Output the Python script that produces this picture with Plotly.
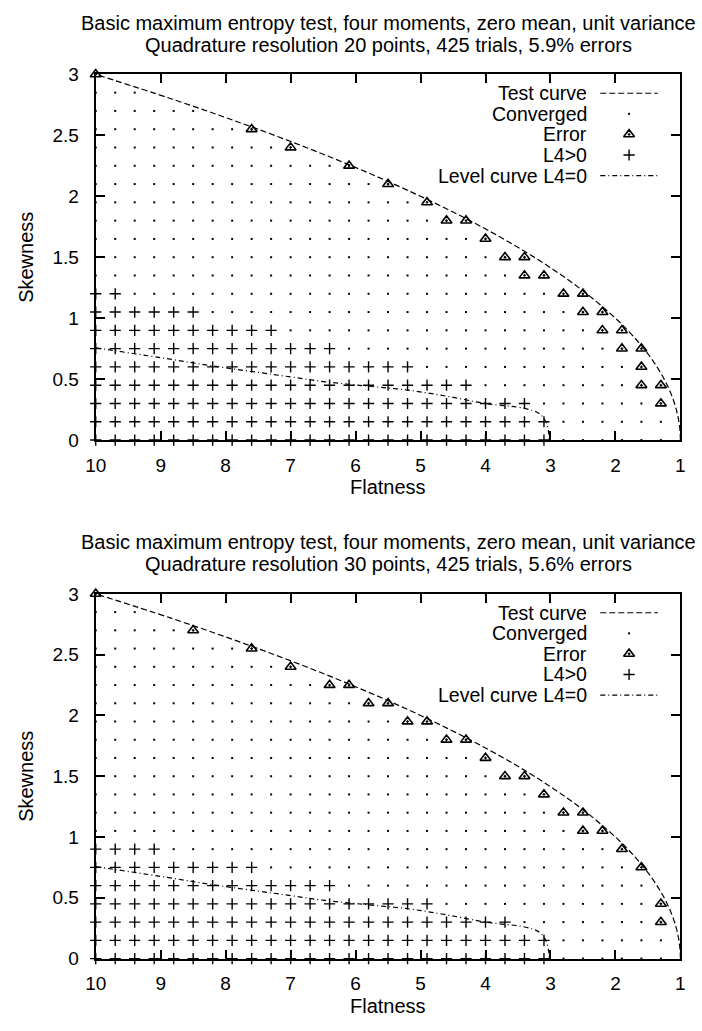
import plotly.graph_objects as go

W, H = 702, 1031
FONT = "Liberation Sans"
FS = 20
FS_KEY = 19.5
FS_TICK = 19

# ---------------- data ----------------
# sampling grid of the trials
flatness_grid = [10.0, 9.7, 9.4, 9.1, 8.8, 8.5, 8.2, 7.9, 7.6, 7.3, 7.0, 6.7, 6.4, 6.1, 5.8,
                 5.5, 5.2, 4.9, 4.6, 4.3, 4.0, 3.7, 3.4, 3.1, 2.8, 2.5, 2.2, 1.9, 1.6, 1.3, 1.0]
skewness_grid = [0.0, 0.15, 0.3, 0.45, 0.6, 0.75, 0.9, 1.05, 1.2, 1.35, 1.5, 1.65, 1.8, 1.95,
                 2.1, 2.25, 2.4, 2.55, 2.7, 2.85, 3.0]
# smallest flatness sampled in each skewness row (rows follow skewness_grid)
row_min_flatness = [1.3, 1.3, 1.3, 1.3, 1.6, 1.6, 1.9, 2.2, 2.5, 3.1, 3.4, 4.0, 4.3, 4.9,
                    5.5, 6.1, 7.0, 7.6, 8.5, 9.4, 10.0]

# test curve (boundary of the admissible region)
test_curve_skewness = [0.0, 0.05, 0.1, 0.15, 0.2, 0.25, 0.3, 0.4, 0.5, 0.6, 0.7, 0.8, 0.9,
                       1.0, 1.2, 1.4, 1.6, 1.8, 2.0, 2.2, 2.4, 2.6, 2.8, 3.0]
test_curve_flatness = [1.0, 1.0025, 1.01, 1.0225, 1.04, 1.0625, 1.09, 1.16, 1.25, 1.36, 1.49,
                       1.64, 1.81, 2.0, 2.44, 2.96, 3.56, 4.24, 5.0, 5.84, 6.76, 7.76, 8.84, 10.0]

# level curve L4 = 0
level_curve_flatness = [10.0, 9.0, 8.2, 7.0, 6.5, 5.8, 5.2, 4.6, 4.0, 3.4, 3.18, 3.08, 3.03, 3.02]
level_curve_skewness = [0.756, 0.676, 0.608, 0.518, 0.48, 0.442, 0.41, 0.36, 0.30, 0.26, 0.22,
                        0.158, 0.07, 0.0]

# panel 1: 20 quadrature points
title1_a = "Basic maximum entropy test, four moments, zero mean, unit variance"
title1_b = "Quadrature resolution 20 points, 425 trials, 5.9% errors"
errors1_flatness = [10.0, 7.6, 7.0, 6.1, 5.5, 4.9, 4.6, 4.3, 4.0, 3.7, 3.4, 3.4, 3.1, 2.8, 2.5,
                    2.5, 2.2, 2.2, 1.9, 1.9, 1.6, 1.6, 1.6, 1.3, 1.3]
errors1_skewness = [3.0, 2.55, 2.4, 2.25, 2.1, 1.95, 1.8, 1.8, 1.65, 1.5, 1.5, 1.35, 1.35, 1.2,
                    1.2, 1.05, 1.05, 0.9, 0.9, 0.75, 0.75, 0.6, 0.45, 0.45, 0.3]
# L4>0 for flatness >= value, rows skewness 0, 0.15, 0.3, ...
l4pos1_row_min_flatness = [3.1, 3.1, 3.4, 4.3, 5.2, 6.4, 7.3, 8.5, 9.7]

# panel 2: 30 quadrature points
title2_a = "Basic maximum entropy test, four moments, zero mean, unit variance"
title2_b = "Quadrature resolution 30 points, 425 trials, 5.6% errors"
errors2_flatness = [10.0, 8.5, 7.6, 7.0, 6.4, 6.1, 5.8, 5.5, 5.2, 4.9, 4.6, 4.3, 4.0, 3.7, 3.4,
                    3.1, 2.8, 2.5, 2.5, 2.2, 1.9, 1.6, 1.3, 1.3]
errors2_skewness = [3.0, 2.7, 2.55, 2.4, 2.25, 2.25, 2.1, 2.1, 1.95, 1.95, 1.8, 1.8, 1.65, 1.5,
                    1.5, 1.35, 1.2, 1.2, 1.05, 1.05, 0.9, 0.75, 0.45, 0.3]
l4pos2_row_min_flatness = [3.1, 3.1, 3.7, 4.9, 6.4, 7.6, 9.1]

legend_labels = ["Test curve", "Converged", "Error", "L4>0", "Level curve L4=0"]
x_label = "Flatness"
y_label = "Skewness"


def classify(err_f, err_s, l4_min):
    errs = set((round(f, 3), round(s, 3)) for f, s in zip(err_f, err_s))
    conv, err, l4 = ([], []), ([], []), ([], [])
    for j, s in enumerate(skewness_grid):
        for f in flatness_grid:
            if f < row_min_flatness[j] - 1e-9:
                continue
            if (round(f, 3), round(s, 3)) in errs:
                tgt = err
            elif j < len(l4_min) and f >= l4_min[j] - 1e-9:
                tgt = l4
            else:
                tgt = conv
            tgt[0].append(f)
            tgt[1].append(s)
    return conv, err, l4


# ---------------- styles ----------------
LW = 1.2
TEST_DASH = "6px,3px"
LEVEL_DASH = "5px,3px,1px,3px"
DOT_MARK = dict(symbol="square", size=2, color="black", line=dict(width=0))
TRI_MARK = dict(symbol="triangle-up-open-dot", size=9.5, color="black", line=dict(width=1.6, color="black"))
PLUS_MARK = dict(symbol="cross-thin", size=8, color="black", line=dict(width=1.4, color="black"))

fig = go.Figure()

panels = [
    ("x", "y", errors1_flatness, errors1_skewness, l4pos1_row_min_flatness),
    ("x2", "y2", errors2_flatness, errors2_skewness, l4pos2_row_min_flatness),
]
for xa, ya, ef, es, l4m in panels:
    conv, err, l4 = classify(ef, es, l4m)
    fig.add_trace(go.Scatter(x=test_curve_flatness, y=test_curve_skewness, mode="lines",
                             line=dict(color="black", width=LW, dash=TEST_DASH, shape="spline"),
                             xaxis=xa, yaxis=ya, cliponaxis=False, showlegend=False))
    fig.add_trace(go.Scatter(x=conv[0], y=conv[1], mode="markers", marker=DOT_MARK,
                             xaxis=xa, yaxis=ya, cliponaxis=False, showlegend=False))
    fig.add_trace(go.Scatter(x=err[0], y=err[1], mode="markers", marker=TRI_MARK,
                             xaxis=xa, yaxis=ya, cliponaxis=False, showlegend=False))
    fig.add_trace(go.Scatter(x=l4[0], y=l4[1], mode="markers", marker=PLUS_MARK,
                             xaxis=xa, yaxis=ya, cliponaxis=False, showlegend=False))
    fig.add_trace(go.Scatter(x=level_curve_flatness, y=level_curve_skewness, mode="lines",
                             line=dict(color="black", width=LW, dash=LEVEL_DASH, shape="spline"),
                             xaxis=xa, yaxis=ya, cliponaxis=False, showlegend=False))

# ---------------- layout geometry (pixels) ----------------
PX_L, PX_R = 86.7, 685.0
P1_T, P1_B = 65.7, 439.0
P2_T, P2_B = 596.0, 968.3


def py(v):
    return 1 - v / H


def px(v):
    return v / W


axis_common = dict(showline=True, linecolor="black", linewidth=2, mirror="ticks",
                   ticks="inside", ticklen=9, tickwidth=1.5, tickcolor="black",
                   showgrid=False, zeroline=False,
                   tickfont=dict(family=FONT, size=FS_TICK, color="black"))

xcommon = dict(axis_common, range=[10, 1], tickvals=[10, 9, 8, 7, 6, 5, 4, 3, 2, 1],
               domain=[px(PX_L), px(PX_R)], ticklabelstandoff=7)
ycommon = dict(axis_common, range=[0, 3], tickvals=[0, 0.5, 1, 1.5, 2, 2.5, 3],
               ticktext=["0", "0.5", "1", "1.5", "2", "2.5", "3"], ticklabelstandoff=11)

fig.update_layout(
    width=W, height=H,
    margin=dict(l=0, r=0, t=0, b=0),
    paper_bgcolor="white", plot_bgcolor="rgba(0,0,0,0)",
    font=dict(family=FONT, size=FS, color="black"),
    showlegend=False,
    xaxis=dict(xcommon, anchor="y"),
    yaxis=dict(ycommon, anchor="x", domain=[py(P1_B), py(P1_T)]),
    xaxis2=dict(xcommon, anchor="y2"),
    yaxis2=dict(ycommon, anchor="x2", domain=[py(P2_B), py(P2_T)]),
    # full-page helper axes for the key samples
    xaxis3=dict(domain=[0, 1], range=[0, W], visible=False, anchor="y3"),
    yaxis3=dict(domain=[0, 1], range=[H, 0], visible=False, anchor="x3"),
)

ann = []
centre_x = px((PX_L + PX_R) / 2)
for top, bottom, ta, tb in [(P1_T, P1_B, title1_a, title1_b), (P2_T, P2_B, title2_a, title2_b)]:
    ann.append(dict(text=ta, x=centre_x, y=py(top - 52.5), xref="paper", yref="paper",
                    xanchor="center", yanchor="middle", showarrow=False, borderpad=0))
    ann.append(dict(text=tb, x=centre_x, y=py(top - 30), xref="paper", yref="paper",
                    xanchor="center", yanchor="middle", showarrow=False, borderpad=0))
    ann.append(dict(text=x_label, x=centre_x, y=py(bottom + 48), xref="paper", yref="paper",
                    xanchor="center", yanchor="middle", showarrow=False, borderpad=0))
    ann.append(dict(text=y_label, x=px(16), y=py((top + bottom) / 2), xref="paper", yref="paper",
                    xanchor="center", yanchor="middle", textangle=-90, showarrow=False, borderpad=0))
    # key
    row_offsets = [19.3, 40.3, 61.3, 82.3, 103.3]
    for lab, off in zip(legend_labels, row_offsets):
        ann.append(dict(text=lab, x=px(590), y=py(top + off), xref="paper", yref="paper",
                        xanchor="right", yanchor="middle", showarrow=False, borderpad=0,
                        font=dict(size=FS_KEY)))
    ks_x0, ks_x1, ks_xc = 603, 662, 632.5
    fig.add_trace(go.Scatter(x=[ks_x0, ks_x1], y=[top + row_offsets[0]] * 2, mode="lines",
                             line=dict(color="black", width=LW, dash=TEST_DASH),
                             xaxis="x3", yaxis="y3", showlegend=False))
    fig.add_trace(go.Scatter(x=[ks_xc], y=[top + row_offsets[1]], mode="markers", marker=DOT_MARK,
                             xaxis="x3", yaxis="y3", showlegend=False))
    fig.add_trace(go.Scatter(x=[ks_xc], y=[top + row_offsets[2]], mode="markers", marker=TRI_MARK,
                             xaxis="x3", yaxis="y3", showlegend=False))
    fig.add_trace(go.Scatter(x=[ks_xc], y=[top + row_offsets[3]], mode="markers", marker=PLUS_MARK,
                             xaxis="x3", yaxis="y3", showlegend=False))
    fig.add_trace(go.Scatter(x=[ks_x0, ks_x1], y=[top + row_offsets[4]] * 2, mode="lines",
                             line=dict(color="black", width=LW, dash=LEVEL_DASH),
                             xaxis="x3", yaxis="y3", showlegend=False))

fig.update_layout(annotations=ann)
fig.write_html("out.html")
